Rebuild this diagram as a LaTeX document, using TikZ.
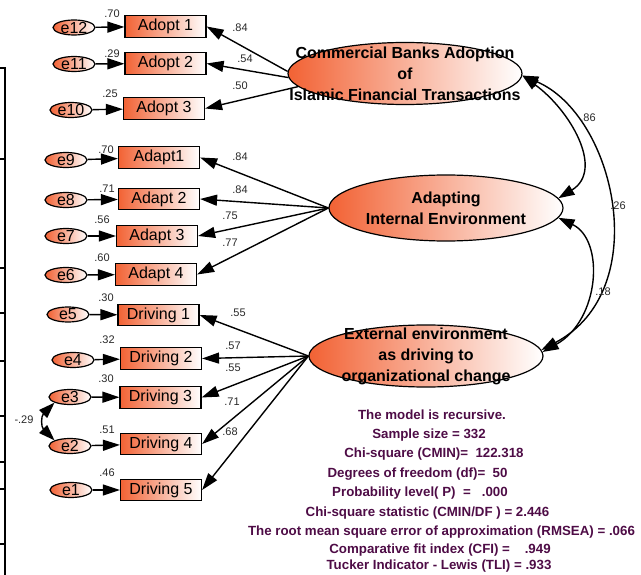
\documentclass[tikz,border=0pt]{standalone}
\usepackage{fontspec}
\setmainfont{Liberation Sans}
\usetikzlibrary{arrows.meta,shapes.geometric}
\definecolor{amosorange}{RGB}{242,98,52}
\definecolor{fitpurple}{RGB}{78,12,70}
\definecolor{coefgray}{RGB}{40,40,40}
\begin{document}
\begin{tikzpicture}[x=1pt,y=1pt,
    obs/.style={draw,line width=1.2pt,rectangle,minimum width=81,minimum height=21.5,inner sep=0,
      left color=amosorange,middle color=amosorange!45!white,right color=white,font=\fontsize{16}{18}\selectfont},
    err/.style={draw,line width=1.2pt,ellipse,minimum width=42,minimum height=15,inner xsep=0,inner ysep=-1.5pt,
      left color=amosorange,right color=white,font=\fontsize{16}{18}\selectfont},
    lat/.style={draw,line width=1.2pt,ellipse,minimum width=234,minimum height=62,inner sep=0,
      left color=amosorange,middle color=amosorange!50!white,right color=white},
    lattext/.style={font=\fontsize{16}{21}\selectfont\bfseries,align=center,inner sep=0},
    coef/.style={font=\fontsize{11}{12}\selectfont,text=coefgray,inner sep=0},
    fit/.style={font=\fontsize{13.3}{15}\selectfont\bfseries,text=fitpurple,inner sep=0},
    path/.style={line width=1.4pt,-{Triangle[length=17pt,width=11pt]}},
    cov/.style={line width=1.4pt,{Triangle[length=16pt,width=11pt]}-{Triangle[length=16pt,width=11pt]}}]
  \useasboundingbox (0,0) rectangle (641,-575);
  \draw[line width=2.5pt] (0,-68) -- (5,-68) -- (5,-575);
  \draw[line width=2pt] (0,-159) -- (5,-159);
  \draw[line width=2pt] (0,-268) -- (5,-268);
  \draw[line width=2pt] (0,-313) -- (5,-313);
  \draw[line width=2pt] (0,-361) -- (5,-361);
  \draw[line width=2pt] (0,-416) -- (5,-416);
  \draw[line width=2pt] (0,-462) -- (5,-462);
  \draw[line width=2pt] (0,-489) -- (5,-489);
  \draw[line width=2pt] (0,-544) -- (5,-544);

  \node[lat,label={[lattext]center:{Commercial Banks Adoption\\of\\Islamic Financial Transactions}}] (bank) at (405,-73.5) {};
  \node[lat,minimum height=66,label={[lattext]center:{Adapting\\Internal Environment}}] (adapt) at (446,-208) {};
  \node[lat,label={[lattext]center:{External environment\\as driving to\\organizational change}}] (ext) at (426,-356) {};

  \node[obs] (adopt1) at (165.5,-26.5) {Adopt 1};
  \node[obs] (adopt2) at (165.5,-63.5) {Adopt 2};
  \node[obs] (adopt3) at (164,-108.5) {Adopt 3};
  \node[obs] (adapt1) at (159,-157.5) {Adapt1};
  \node[obs] (adapt2) at (159,-199) {Adapt 2};
  \node[obs] (adapt3) at (157,-236) {Adapt 3};
  \node[obs] (adapt4) at (156,-274.5) {Adapt 4};
  \node[obs] (driv1) at (158.5,-315) {Driving 1};
  \node[obs] (driv2) at (161,-358.5) {Driving 2};
  \node[obs] (driv3) at (160.5,-397.5) {Driving 3};
  \node[obs] (driv4) at (161,-444) {Driving 4};
  \node[obs] (driv5) at (161,-490) {Driving 5};

  \node[err] (e12) at (74,-27.5) {e12};
  \node[err] (e11) at (74,-64) {e11};
  \node[err] (e10) at (71,-110) {e10};
  \node[err] (e9) at (66,-160) {e9};
  \node[err] (e8) at (66,-200) {e8};
  \node[err] (e7) at (66,-236) {e7};
  \node[err] (e6) at (66,-275) {e6};
  \node[err] (e5) at (68,-314.5) {e5};
  \node[err] (e4) at (73,-360) {e4};
  \node[err] (e3) at (70,-397) {e3};
  \node[err] (e2) at (70,-446) {e2};
  \node[err] (e1) at (71,-490) {e1};

  \draw[path] (e12) -- (adopt1);
  \draw[path] (e11) -- (adopt2);
  \draw[path] (e10) -- (adopt3);
  \draw[path] (e9) -- (adapt1);
  \draw[path] (e8) -- (adapt2);
  \draw[path] (e7) -- (adapt3);
  \draw[path] (e6) -- (adapt4);
  \draw[path] (e5) -- (driv1);
  \draw[path] (e4) -- (driv2);
  \draw[path] (e3) -- (driv3);
  \draw[path] (e2) -- (driv4);
  \draw[path] (e1) -- (driv5);

  \draw[path] (bank.179) -- (adopt1.east);
  \draw[path] (bank.182) -- (adopt2.east);
  \draw[path] (bank.187) -- (adopt3.east);
  \draw[path] (adapt.west) -- (adapt1.east);
  \draw[path] (adapt.west) -- (adapt2.east);
  \draw[path] (adapt.west) -- (adapt3.east);
  \draw[path] (adapt.west) -- (adapt4.east);
  \draw[path] (ext.west) -- (driv1.east);
  \draw[path] (ext.west) -- (driv2.east);
  \draw[path] (ext.west) -- (driv3.east);
  \draw[path] (ext.west) -- (driv4.east);
  \draw[path] (ext.west) -- (driv5.east);

  \draw[cov] (bank.-1) .. controls (570,-110) and (605,-170) .. (adapt.5);
  \draw[cov] (bank.-1) .. controls (615,-115) and (655,-290) .. (ext.3);
  \draw[cov] (adapt.-5) .. controls (605,-240) and (600,-320) .. (ext.2);
  \draw[cov] (e3.200) to[out=-135,in=135,looseness=1.3] (e2.160);

  \node[coef] (r12) at (112,-14) {.70};
  \node[coef] (r11) at (112,-54) {.29};
  \node[coef] (r10) at (110,-94) {.25};
  \node[coef] (r9) at (106,-150) {.70};
  \node[coef] (r8) at (107,-189) {.71};
  \node[coef] (r7) at (102,-220) {.56};
  \node[coef] (r6) at (102,-258) {.60};
  \node[coef] (r5) at (106,-298) {.30};
  \node[coef] (r4) at (107,-340) {.32};
  \node[coef] (r3) at (106,-379) {.30};
  \node[coef] (r2) at (107,-430) {.51};
  \node[coef] (r1) at (107,-473) {.46};

  \node[coef] (w1) at (240,-28) {.84};
  \node[coef] (w2) at (245,-59) {.54};
  \node[coef] (w3) at (240,-86) {.50};
  \node[coef] (w4) at (240,-157) {.84};
  \node[coef] (w5) at (240,-190) {.84};
  \node[coef] (w6) at (230,-216) {.75};
  \node[coef] (w7) at (230,-243) {.77};
  \node[coef] (w8) at (238,-313) {.55};
  \node[coef] (w9) at (233,-346) {.57};
  \node[coef] (w10) at (233,-368) {.55};
  \node[coef] (w11) at (232,-402) {.71};
  \node[coef] (w12) at (230,-432) {.68};

  \node[coef] (c1) at (588,-118) {.86};
  \node[coef] (c2) at (618,-206) {.26};
  \node[coef] (c3) at (603,-292) {.18};
  \node[coef] (c4) at (24,-420) {-.29};

  \node[fit] (f1) at (432,-415) {The model is recursive.};
  \node[fit] (f2) at (429,-435) {Sample size = 332};
  \node[fit] (f3) at (434,-454.5) {Chi-square (CMIN)=\ \ 122.318};
  \node[fit] (f4) at (417.5,-474) {Degrees of freedom (df)=\ \ 50};
  \node[fit] (f5) at (420,-493.5) {Probability level( P)\ \ =\ \ \ .000};
  \node[fit] (f6) at (427.5,-513) {Chi-square statistic (CMIN/DF ) = 2.446};
  \node[fit] (f7) at (441.5,-532) {The root mean square error of approximation (RMSEA) = .066};
  \node[fit] (f8) at (440,-550) {Comparative fit index (CFI) =\ \ \ \ .949};
  \node[fit] (f9) at (439,-566) {Tucker Indicator - Lewis (TLI) = .933};
\end{tikzpicture}
\end{document}
